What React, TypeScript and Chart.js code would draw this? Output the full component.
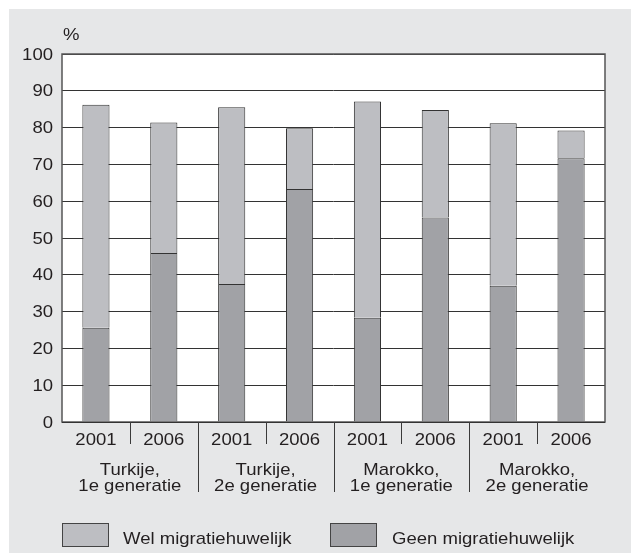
import React, { useEffect, useRef } from "react";
import { Chart, registerables } from "chart.js";

Chart.register(...registerables);

const years = ["2001", "2006", "2001", "2006", "2001", "2006", "2001", "2006"];
const groupLabels = [
  ["Turkije,", "1e generatie"],
  ["Turkije,", "2e generatie"],
  ["Marokko,", "1e generatie"],
  ["Marokko,", "2e generatie"],
];
const geenMigratie = [25.6, 45.9, 37.5, 63.3, 28.3, 55.6, 37.0, 71.7];
const welMigratie = [60.6, 35.5, 48.0, 16.5, 58.8, 29.2, 44.2, 7.5];
const yTicks = [0, 10, 20, 30, 40, 50, 60, 70, 80, 90, 100];
const seriesNames = ["Wel migratiehuwelijk", "Geen migratiehuwelijk"];

const FONT = "'Liberation Sans', Arial, Helvetica, sans-serif";
const TEXT = "#231f20";
const WEL = "#bdbec2";
const GEEN = "#a1a2a6";
const PANEL = "#e6e7e8";
const EDGE = "#333333";
const STRETCH = 1.09;

function stretchText(ctx: any, t: string, x: number, y: number, align: string, baseline = "alphabetic") {
  ctx.save();
  ctx.translate(x, y);
  ctx.scale(STRETCH, 1);
  ctx.textAlign = align;
  ctx.textBaseline = baseline;
  ctx.fillText(t, 0, 0);
  ctx.restore();
}

const decorPlugin = {
  id: "decor",
  beforeDraw(chart: any) {
    const { ctx, chartArea, width, height } = chart;
    ctx.save();
    ctx.fillStyle = PANEL;
    ctx.fillRect(0, 0, width, height);
    ctx.fillStyle = "#ffffff";
    ctx.fillRect(chartArea.left, chartArea.top, chartArea.right - chartArea.left, chartArea.bottom - chartArea.top);
    ctx.restore();
  },
  afterDraw(chart: any) {
    const { ctx, chartArea } = chart;
    const x = chart.scales.x;
    const y = chart.scales.y;
    const { left, right, top, bottom } = chartArea;
    ctx.save();
    // frame
    ctx.strokeStyle = "#555555";
    ctx.lineWidth = 1.5;
    ctx.strokeRect(left, top, right - left, bottom - top);
    ctx.strokeStyle = EDGE;
    ctx.lineWidth = 1;
    ctx.beginPath();
    ctx.moveTo(left, Math.round(bottom) + 0.5);
    ctx.lineTo(right, Math.round(bottom) + 0.5);
    ctx.stroke();

    // separators
    const n = years.length;
    ctx.strokeStyle = "#3a3a3a";
    ctx.lineWidth = 1;
    for (let i = 1; i < n; i++) {
      const px = Math.round((x.getPixelForValue(i - 1) + x.getPixelForValue(i)) / 2) + 0.5;
      const long = i % 2 === 0;
      ctx.beginPath();
      ctx.moveTo(px, bottom);
      ctx.lineTo(px, bottom + (long ? 70 : 22));
      ctx.stroke();
    }

    ctx.fillStyle = TEXT;
    ctx.font = `17px ${FONT}`;
    // y tick labels
    yTicks.forEach((v) => {
      stretchText(ctx, String(v), left - 9, y.getPixelForValue(v) + 1, "right", "middle");
    });
    // year labels
    years.forEach((t, i) => {
      stretchText(ctx, t, x.getPixelForValue(i), bottom + 23, "center");
    });
    // group labels
    groupLabels.forEach((lines, g) => {
      const cx = (x.getPixelForValue(g * 2) + x.getPixelForValue(g * 2 + 1)) / 2;
      lines.forEach((t, j) => {
        stretchText(ctx, t, cx, bottom + 53 + j * 16, "center");
      });
    });

    // percent label
    stretchText(ctx, "%", left + 1, top - 14, "left");

    // legend
    const items = [
      { label: seriesNames[0], color: WEL, bx: 53, tx: 114 },
      { label: seriesNames[1], color: GEEN, bx: 321, tx: 383 },
    ];
    items.forEach((it) => {
      ctx.fillStyle = it.color;
      ctx.fillRect(it.bx, 514, 46, 23);
      ctx.strokeStyle = "#444444";
      ctx.lineWidth = 1;
      ctx.strokeRect(it.bx + 0.5, 514.5, 46, 23);
      ctx.fillStyle = TEXT;
      stretchText(ctx, it.label, it.tx, 535, "left");
    });
    ctx.restore();
  },
};

export default function App() {
  const ref = useRef<HTMLCanvasElement | null>(null);
  useEffect(() => {
    if (!ref.current) return;
    const chart = new Chart(ref.current, {
      type: "bar",
      data: {
        labels: years,
        datasets: [
          {
            label: seriesNames[1],
            data: geenMigratie,
            backgroundColor: GEEN,
            borderColor: EDGE,
            borderWidth: 1,
            categoryPercentage: 0.4,
            barPercentage: 1,
          },
          {
            label: seriesNames[0],
            data: welMigratie,
            backgroundColor: WEL,
            borderColor: EDGE,
            borderWidth: 1,
            categoryPercentage: 0.4,
            barPercentage: 1,
          },
        ],
      },
      options: {
        responsive: false,
        animation: false,
        devicePixelRatio: 1,
        layout: { padding: { top: 45, right: 26, left: 0, bottom: 0 } },
        plugins: { legend: { display: false }, tooltip: { enabled: false } },
        scales: {
          x: {
            stacked: true,
            grid: { display: false },
            border: { display: false },
            ticks: { display: false },
            afterFit: (s: any) => {
              s.height = 131;
            },
          },
          y: {
            stacked: true,
            min: yTicks[0],
            max: yTicks[yTicks.length - 1],
            afterBuildTicks: (s: any) => {
              s.ticks = yTicks.map((v) => ({ value: v }));
            },
            ticks: { display: false },
            grid: { color: EDGE, lineWidth: 1, drawTicks: false },
            border: { display: false },
            afterFit: (s: any) => {
              s.width = 53;
            },
          },
        },
      },
      plugins: [decorPlugin],
    });
    return () => chart.destroy();
  }, []);
  return (
    <div style={{ position: "absolute", left: 9, top: 9, width: 622, height: 544 }}>
      <canvas ref={ref} width={622} height={544} style={{ display: "block" }} />
    </div>
  );
}
